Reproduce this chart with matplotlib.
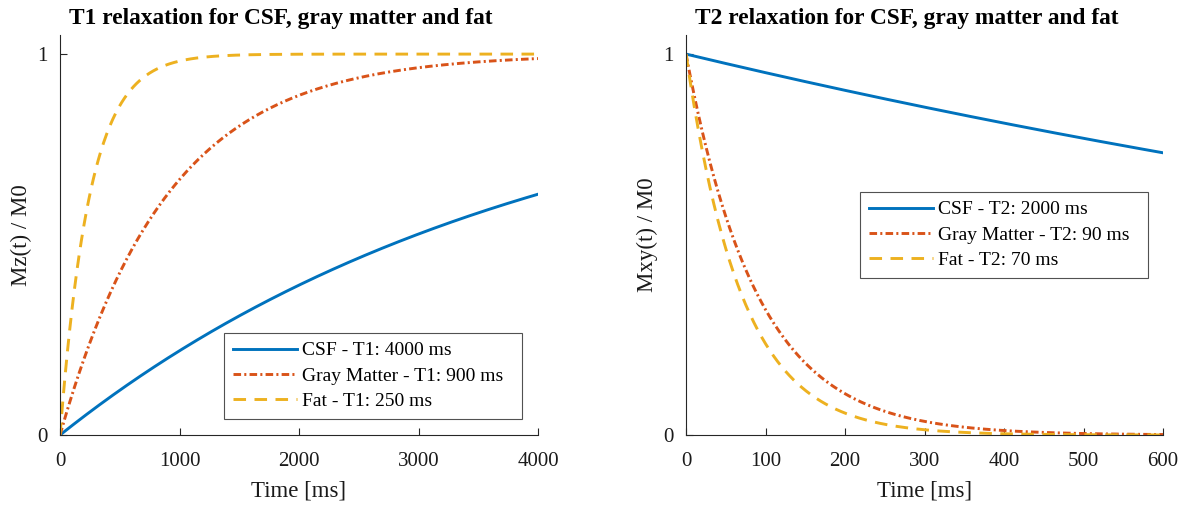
import numpy as np
import matplotlib
matplotlib.use("Agg")
import matplotlib.pyplot as plt

plt.rcParams['font.family'] = ['Liberation Serif', 'DejaVu Serif']

# Tissue relaxation constants (ms)
tissues = ["CSF", "Gray Matter", "Fat"]
t1_values = [4000, 900, 250]
t2_values = [2000, 90, 70]

colors = ["#0072BD", "#D95319", "#EDB120"]
styles = ["-", (0, (2.6, 1.1, 0.7, 1.1)), (0, (4.3, 2.9))]

t1_time = np.linspace(0, 4000, 801)
t2_time = np.linspace(0, 600, 601)

axis_gray = "#262626"
pad_label = "  "  # extra room on the right side of the legend box

fig = plt.figure(figsize=(11.84, 5.05), dpi=100)
ax1 = fig.add_axes([0.0507, 0.1386, 0.4037, 0.792])
ax2 = fig.add_axes([0.5794, 0.1386, 0.4030, 0.792])

for name, T1, c, ls in zip(tissues, t1_values, colors, styles):
    ax1.plot(t1_time, 1 - np.exp(-t1_time / T1), color=c, ls=ls, lw=2.1,
             label=f"{name} - T1: {T1} ms{pad_label}")

for name, T2, c, ls in zip(tissues, t2_values, colors, styles):
    ax2.plot(t2_time, np.exp(-t2_time / T2), color=c, ls=ls, lw=2.1,
             label=f"{name} - T2: {T2} ms{pad_label}")

def style_axes(ax, xlim, xticks, ylabel, title):
    ax.set_xlim(*xlim)
    ax.set_ylim(0, 1.05)
    ax.set_xticks(xticks)
    ax.set_yticks([0, 1])
    ax.spines['top'].set_visible(False)
    ax.spines['right'].set_visible(False)
    for s in ('left', 'bottom'):
        ax.spines[s].set_color(axis_gray)
        ax.spines[s].set_linewidth(0.8)
    ax.tick_params(direction='in', length=5, width=0.8, colors=axis_gray,
                   labelsize=15, labelcolor='#1a1a1a')
    ax.tick_params(axis='x', pad=12)
    ax.tick_params(axis='y', pad=9)
    ax.set_xlabel("Time [ms]", fontsize=16.5, color='#1a1a1a', labelpad=7)
    ax.set_ylabel(ylabel, fontsize=16.5, color='#1a1a1a', labelpad=4)
    ax.set_title(title, fontsize=16.8, fontweight='bold', pad=8, x=0.462)

style_axes(ax1, (0, 4000), [0, 1000, 2000, 3000, 4000], "Mz(t) / M0",
           "T1 relaxation for CSF, gray matter and fat")
style_axes(ax2, (0, 600), [0, 100, 200, 300, 400, 500, 600], "Mxy(t) / M0",
           "T2 relaxation for CSF, gray matter and fat")

for ax, anchor in ((ax1, (0.343, 0.255)), (ax2, (0.365, 0.6075))):
    leg = ax.legend(loc='upper left', bbox_to_anchor=anchor, fontsize=14,
                    frameon=True, fancybox=False, handlelength=3.3,
                    handletextpad=0.25, borderpad=0.45, labelspacing=0.4,
                    borderaxespad=0)
    leg.get_frame().set_edgecolor(axis_gray)
    leg.get_frame().set_linewidth(0.8)

fig.savefig("out.png", dpi=100)
